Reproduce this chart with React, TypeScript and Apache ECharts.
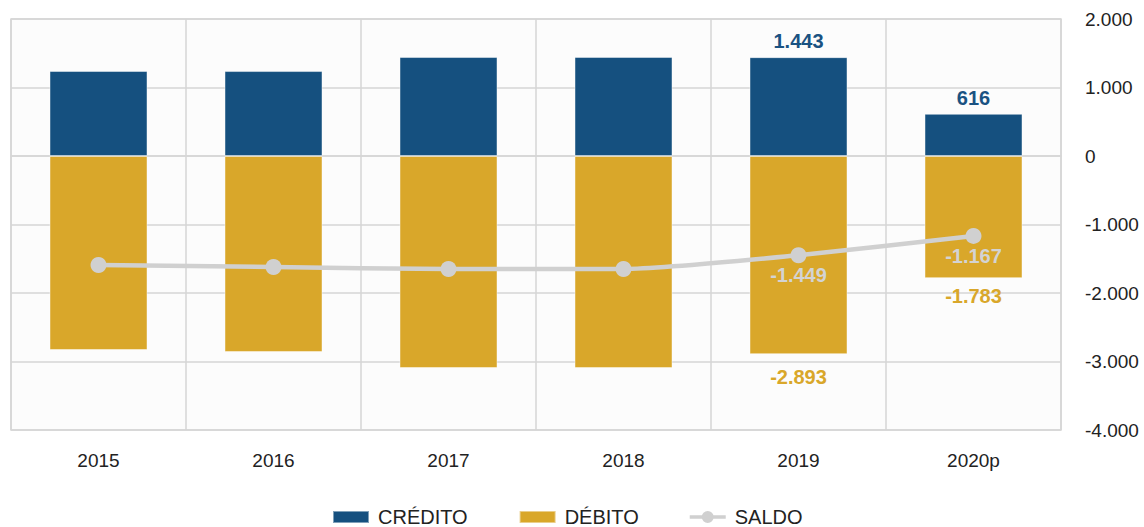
import React, { useEffect, useRef } from "react";
import * as echarts from "echarts";

const categories = ["2015", "2016", "2017", "2018", "2019", "2020p"];
const credito = [1241, 1240, 1445, 1446, 1443, 616];
const debito = [-2832, -2861, -3095, -3096, -2893, -1783];
const saldo = [-1591, -1621, -1650, -1650, -1449, -1167];
const labelledFrom = 4;

const fmt = (v: number) => {
  const s = Math.abs(Math.round(v)).toString().replace(/\B(?=(\d{3})+(?!\d))/g, ".");
  return (v < 0 ? "-" : "") + s;
};

const FONT = "'Liberation Sans', Arial, sans-serif";
const SALDO_ICON =
  "path://M0,5 L14.5,5 L14.5,9 L0,9 Z M27.5,5 L42,5 L42,9 L27.5,9 Z M14,7 A7,7 0 1,1 28,7 A7,7 0 1,1 14,7 Z";

export default function App() {
  const ref = useRef<HTMLDivElement>(null);
  useEffect(() => {
    if (!ref.current) return;
    const chart = echarts.init(ref.current, undefined, { renderer: "svg" });
    const mk = (arr: number[], color: string, pos: string, dist: (i: number) => number) =>
      arr.map((v, i) => ({
        value: v,
        label: {
          show: i >= labelledFrom,
          position: pos,
          distance: dist(i),
          color,
          fontSize: 20,
          fontWeight: "bold",
          fontFamily: FONT,
          formatter: (p: any) => fmt(p.value),
        },
      }));
    chart.setOption({
      animation: false,
      textStyle: { fontFamily: FONT },
      grid: {
        left: 11,
        right: 83,
        top: 19,
        bottom: 97,
        show: true,
        borderColor: "#d6d6d6",
        borderWidth: 1.5,
        backgroundColor: "#fcfcfc",
      },
      legend: {
        top: 502,
        left: 327,
        padding: [5, 5, 2, 5],
        itemWidth: 36,
        itemHeight: 12,
        itemGap: 51,
        textStyle: { fontSize: 20, color: "#222", fontFamily: FONT, padding: [0, 0, 0, 4], lineHeight: 20 },
        data: [
          { name: "CRÉDITO", icon: "rect" },
          { name: "DÉBITO", icon: "rect" },
          { name: "SALDO", icon: SALDO_ICON },
        ],
      },
      xAxis: {
        type: "category",
        data: categories,
        axisTick: { show: false },
        axisLine: { show: true, lineStyle: { color: "#d6d6d6", width: 1.5 } },
        axisLabel: { color: "#222", fontSize: 19, margin: 21, fontFamily: FONT },
        splitLine: { show: true, interval: 0, lineStyle: { color: "#d6d6d6", width: 1.5 } },
      },
      yAxis: {
        type: "value",
        position: "right",
        min: -4000,
        max: 2000,
        interval: 1000,
        axisLine: { show: false },
        axisTick: { show: false },
        axisLabel: {
          color: "#222",
          fontSize: 19,
          margin: 24,
          fontFamily: FONT,
          formatter: (v: number) => fmt(v),
        },
        splitLine: { lineStyle: { color: "#d6d6d6", width: 1.5 } },
      },
      series: [
        {
          name: "CRÉDITO",
          type: "bar",
          data: mk(credito, "#1a5282", "top", () => 6),
          barWidth: 98,
          barGap: "-100%",
          itemStyle: { color: "#15507f", borderColor: "rgba(255,255,255,0.45)", borderWidth: 1 },
        },
        {
          name: "DÉBITO",
          type: "bar",
          data: mk(debito, "#d9a72a", "bottom", (i) => (i === 4 ? 13 : 8)),
          barWidth: 98,
          barGap: "-100%",
          itemStyle: { color: "#d9a72a", borderColor: "rgba(255,255,255,0.45)", borderWidth: 1 },
        },
        {
          name: "SALDO",
          type: "line",
          data: mk(saldo, "#d3d3d3", "bottom", () => 2),
          smooth: 0.2,
          symbol: "circle",
          symbolSize: 16,
          lineStyle: { color: "#d0d0d0", width: 4.5 },
          itemStyle: { color: "#d0d0d0" },
          z: 5,
        },
      ],
    });
    return () => chart.dispose();
  }, []);
  return <div ref={ref} style={{ width: 1144, height: 527, position: "absolute", left: 0, top: 0 }} />;
}
